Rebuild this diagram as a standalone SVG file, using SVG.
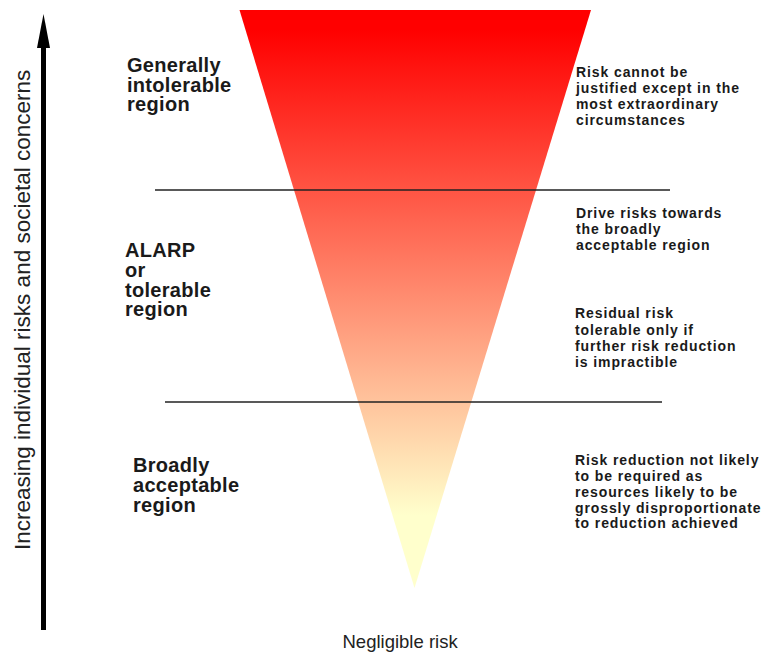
<svg xmlns="http://www.w3.org/2000/svg" width="765" height="652" viewBox="0 0 765 652">
  <style>
    .region { font-family: "Liberation Sans", Arial, sans-serif; font-weight: bold; font-size: 20px; letter-spacing: 0.3px; fill: #1a1a1a; }
    .note { font-family: "Liberation Sans", Arial, sans-serif; font-weight: bold; font-size: 14px; letter-spacing: 0.9px; fill: #1a1a1a; }
    .plain { font-family: "Liberation Sans", Arial, sans-serif; fill: #222222; }
    .divider { stroke: #222222; stroke-width: 1.5; fill: none; }
  </style>
  <defs>
    <linearGradient id="riskFill" gradientUnits="userSpaceOnUse" x1="0" y1="30" x2="0" y2="515">
      <stop offset="0" stop-color="#ff0000"/>
      <stop offset="1" stop-color="#ffffcc"/>
    </linearGradient>
  </defs>

  <rect width="765" height="652" fill="#ffffff"/>

  <!-- risk triangle: wide at the top (high risk), narrowing to negligible -->
  <g id="risk-triangle">
    <polygon points="239.5,10 591,10 414.5,588" fill="url(#riskFill)"/>
  </g>

  <!-- region boundaries -->
  <g id="connectors">
    <line class="divider" x1="155" y1="190" x2="670" y2="190"/>
    <line class="divider" x1="165" y1="402" x2="662" y2="402"/>
  </g>

  <!-- vertical axis arrow -->
  <g id="axis">
    <rect x="41" y="44" width="5" height="586" fill="#000000"/>
    <polygon points="43.5,14 50,48 37,48" fill="#000000"/>
    <text class="plain" font-size="22.5" transform="translate(29.5,550) rotate(-90)">Increasing individual risks and societal concerns</text>
  </g>

  <g id="intolerable-label">
    <text class="region" x="127" y="72">Generally</text>
    <text class="region" x="127" y="91.5">intolerable</text>
    <text class="region" x="127" y="111">region</text>
  </g>

  <g id="alarp-label">
    <text class="region" x="125" y="257">ALARP</text>
    <text class="region" x="125" y="276.5">or</text>
    <text class="region" x="125" y="296.5">tolerable</text>
    <text class="region" x="125" y="316">region</text>
  </g>

  <g id="acceptable-label">
    <text class="region" x="133" y="472">Broadly</text>
    <text class="region" x="133" y="492">acceptable</text>
    <text class="region" x="133" y="512">region</text>
  </g>

  <g id="intolerable-note">
    <text class="note" x="576" y="77.3">Risk cannot be</text>
    <text class="note" x="576" y="93.3">justified except in the</text>
    <text class="note" x="576" y="109.3">most extraordinary</text>
    <text class="note" x="576" y="125.3">circumstances</text>
  </g>

  <g id="alarp-note-drive">
    <text class="note" x="576" y="218.3">Drive risks towards</text>
    <text class="note" x="576" y="234.3">the broadly</text>
    <text class="note" x="576" y="250">acceptable region</text>
  </g>

  <g id="alarp-note-residual">
    <text class="note" x="575" y="318.3">Residual risk</text>
    <text class="note" x="575" y="335">tolerable only if</text>
    <text class="note" x="575" y="351">further risk reduction</text>
    <text class="note" x="575" y="366.5">is impractible</text>
  </g>

  <g id="acceptable-note">
    <text class="note" x="575" y="465">Risk reduction not likely</text>
    <text class="note" x="575" y="480.7">to be required as</text>
    <text class="note" x="575" y="496.7">resources likely to be</text>
    <text class="note" x="575" y="512.7">grossly disproportionate</text>
    <text class="note" x="575" y="528.3">to reduction achieved</text>
  </g>

  <g id="negligible-label">
    <text class="plain" font-size="18.5" x="342.5" y="648">Negligible risk</text>
  </g>
</svg>
